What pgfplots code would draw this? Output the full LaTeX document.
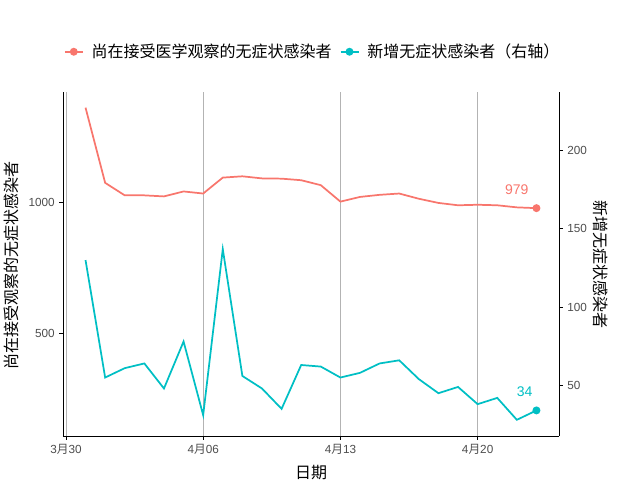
\documentclass[border=0pt]{standalone}
\usepackage{pgfplots}
\pgfplotsset{compat=1.18}
\usepackage{pgfplotstable}
\usepackage{fontspec}
\setmainfont{Liberation Sans}
\newfontfamily\cjk{Noto Sans CJK SC}
\definecolor{cred}{HTML}{F8766D}
\definecolor{cteal}{HTML}{00BFC4}
\definecolor{tickgray}{HTML}{4D4D4D}
\definecolor{gridgray}{HTML}{B3B3B3}
\pgfplotstableread{
d a b
1 1364 130
2 1076 55
3 1028 61
4 1028 64
5 1024 48
6 1043 78
7 1035 31
8 1096 137
9 1101 56
10 1093 48
11 1092 35
12 1086 63
13 1067 62
14 1004 55
15 1022 58
16 1030 64
17 1035 66
18 1015 54
19 999 45
20 990 49
21 992 38
22 990 42
23 982 28
24 979 34
}\data
\pgfplotsset{
  common/.style={
    at={(47.25pt,33pt)}, anchor=south west, scale only axis,
    width=372pt, height=258pt,
    xmin=-0.15, xmax=25.15,
    axis line style={-, black, line width=0.55pt},
    tick align=outside, major tick length=2.75pt,
    tick style={black, line width=0.55pt},
    tick label style={text=tickgray, font=\fontsize{8.8}{10}\selectfont},
    /pgf/number format/assume math mode=true,
  }
}
\begin{document}
\begin{tikzpicture}
\path[use as bounding box] (0,0) rectangle (480pt,360pt);
\begin{axis}[common,
  ymin=106, ymax=1424,
  axis x line*=bottom, axis y line*=left,
  xtick={0,7,14,21},
  xticklabels={3{\cjk 月}30,4{\cjk 月}06,4{\cjk 月}13,4{\cjk 月}20},
  xmajorgrids, major grid style={gridgray, line width=0.55pt},
  ytick={500,1000}, yticklabels={500,1000},
  xlabel={\cjk 日期},
  xlabel style={font=\fontsize{12}{14}\selectfont, at={(axis description cs:0.5,-0.105)}, anchor=center},
  ylabel={\cjk 尚在接受观察的无症状感染者},
  ylabel style={font=\fontsize{12}{14}\selectfont, at={(axis description cs:-0.105,0.495)}, anchor=center, rotate=0},
]
\addplot[cred, line width=1.3pt, mark=*, mark indices={24}, mark size=2.3pt] table[x=d, y=a] {\data};
\node[text=cred, font=\fontsize{10.5}{12}\selectfont] at (axis cs:23.0,1050) {979};
\end{axis}
\begin{axis}[common,
  ymin=17.667, ymax=237.333,
  axis x line=none, axis y line*=right,
  ytick={50,100,150,200},
  ylabel={\cjk 新增无症状感染者},
  ylabel style={font=\fontsize{12}{14}\selectfont, at={(axis description cs:1.083,0.5)}, anchor=center, rotate=180},
  legend style={draw=none, fill=none, legend columns=2,
    at={(axis description cs:0.504,1.117)}, anchor=center,
    font=\cjk\fontsize{12}{14}\selectfont,
    /tikz/every odd column/.append style={column sep=4pt},
    /tikz/every even column/.append style={column sep=4pt}},
  legend image code/.code={\draw[#1, mark=none] (0pt,0pt) -- (13.5pt,0pt); \fill[#1] (6.75pt,0pt) circle (2.3pt);},
]
\addlegendimage{cred, line width=1.3pt}
\addlegendentry{尚在接受医学观察的无症状感染者}
\addlegendimage{cteal, line width=1.3pt}
\addlegendentry{新增无症状感染者（右轴）}
\addplot[cteal, line width=1.3pt, mark=*, mark indices={24}, mark size=2.3pt, forget plot] table[x=d, y=b] {\data};
\node[text=cteal, font=\fontsize{10.5}{12}\selectfont] at (axis cs:23.4,46.2) {34};
\end{axis}
\end{tikzpicture}
\end{document}
